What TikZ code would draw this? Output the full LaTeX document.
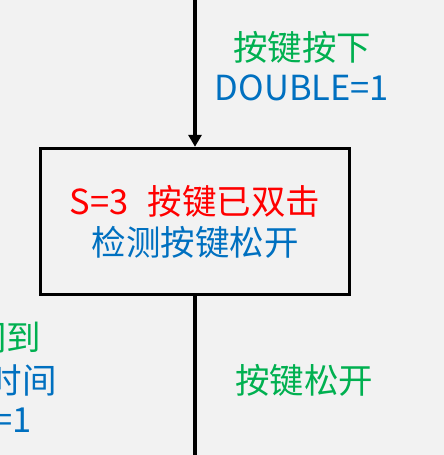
\documentclass[tikz,border=0pt]{standalone}
\usepackage{fontspec}
\setmainfont{Noto Sans CJK SC}
\usepackage{xcolor}
\definecolor{bggray}{HTML}{F2F2F2}
\definecolor{condgreen}{HTML}{00B050}
\definecolor{actblue}{HTML}{0070C0}
\definecolor{statered}{HTML}{FF0000}
\usepackage{tikz}
\usetikzlibrary{arrows.meta,positioning}
\tikzset{
	statebox/.style={
		draw=black, line width=3.4pt, rectangle,
		minimum width=309pt, minimum height=146pt,
		inner sep=0pt, align=center,
		font=\fontsize{34.5}{41}\selectfont
	},
	cond/.style={
		inner sep=0pt, align=center, text=condgreen,
		font=\fontsize{34.5}{42}\selectfont
	},
	act/.style={
		inner sep=0pt, align=center, text=actblue,
		font=\fontsize{34.5}{42}\selectfont
	},
	flow/.style={line width=3.4pt, black},
	flow_arrow/.style={flow, -{Triangle[length=12pt,width=13pt]}}
}

\begin{document}
\begin{tikzpicture}[x=1pt,y=-1pt]
  \fill[bggray] (0,0) rectangle (444,455);
  \useasboundingbox (0,0) rectangle (444,455);
  \clip (0,0) rectangle (444,455);

  \node[statebox] (S3) at (195,221.5)
    {\textcolor{statered}{S=3\hspace{0.55em}按键已双击}\\
     \textcolor{actblue}{检测按键松开}};

  \coordinate (in)  at (195,0);
  \coordinate (out) at (195,455);

  % transition into state 3
  \node[cond] (pressed) at (302,47) {按键按下};
  \node[act]  (dbl)     at (302,88) {DOUBLE=1};

  % transition out of state 3
  \node[cond] (released) at (304,380) {按键松开};

  % neighbouring transition, cut at the left edge
  \node[cond, anchor=east] (timeup)  at (41.5,338) {间到};
  \node[act,  anchor=east] (timeset) at (57,380) {时间};
  \node[act,  anchor=east] (flag)    at (32,420) {=1};

  \draw[flow_arrow] (in) -- (S3.north);
  \draw[flow] (S3.south) -- (out);
\end{tikzpicture}
\end{document}
